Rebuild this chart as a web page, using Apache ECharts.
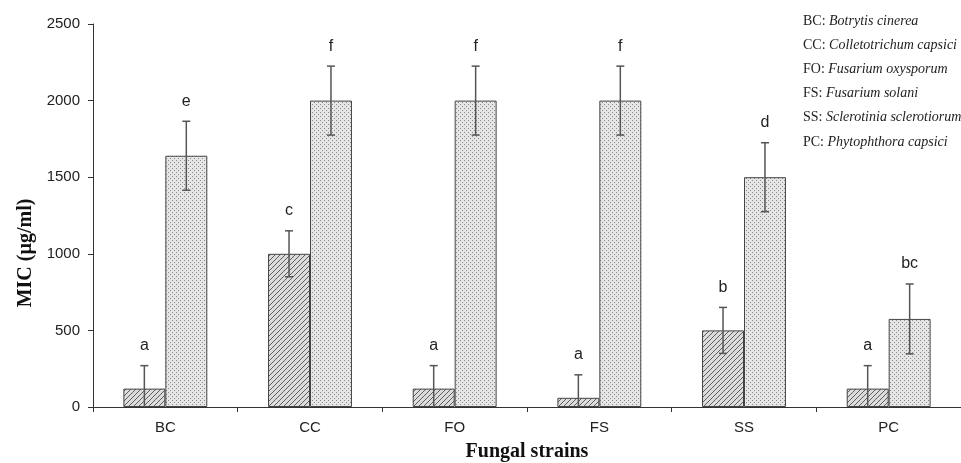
<!DOCTYPE html>
<html>
<head>
<meta charset="utf-8">
<script src="https://cdn.jsdelivr.net/npm/echarts@6/dist/echarts.min.js"></script>
<style>html,body{margin:0;padding:0;background:#fff}#c{width:961px;height:463px}</style>
</head>
<body>
<div id="c"></div>
<script>
var categories = ['BC', 'CC', 'FO', 'FS', 'SS', 'PC'];
var hatchedValues = [120, 1000, 120, 60, 500, 120];
var hatchedErr = [150, 150, 150, 150, 150, 150];
var hatchedLetters = ['a', 'c', 'a', 'a', 'b', 'a'];
var dottedValues = [1640, 2000, 2000, 2000, 1500, 575];
var dottedErr = [225, 225, 225, 225, 225, 228];
var dottedLetters = ['e', 'f', 'f', 'f', 'd', 'bc'];
var yTicks = [0, 500, 1000, 1500, 2000, 2500];
var legendCodes = ['BC', 'CC', 'FO', 'FS', 'SS', 'PC'];
var legendNames = ['Botrytis cinerea', 'Colletotrichum capsici', 'Fusarium oxysporum', 'Fusarium solani', 'Sclerotinia sclerotiorum', 'Phytophthora capsici'];
var xTitle = 'Fungal strains';
var yTitle = 'MIC (µg/ml)';

function hatchPattern() {
  var c = document.createElement('canvas');
  c.width = 5; c.height = 5;
  var g = c.getContext('2d');
  g.fillStyle = '#dcdcdc'; g.fillRect(0, 0, 5, 5);
  g.strokeStyle = '#5e5e5e'; g.lineWidth = 1;
  g.beginPath();
  g.moveTo(-1, 6); g.lineTo(6, -1);
  g.moveTo(-1, 1); g.lineTo(1, -1);
  g.moveTo(4, 6); g.lineTo(6, 4);
  g.stroke();
  return c;
}
function dotPattern() {
  var c = document.createElement('canvas');
  c.width = 4; c.height = 4;
  var g = c.getContext('2d');
  g.fillStyle = '#e6e6e6'; g.fillRect(0, 0, 4, 4);
  g.fillStyle = '#8a8a8a';
  g.fillRect(0, 0, 1, 1);
  g.fillRect(2, 2, 1, 1);
  return c;
}

var BAR_FRAC = 0.29;
function errRenderer(sign, letters) {
  return function (params, api) {
    var idx = api.value(0), v = api.value(1), e = api.value(2);
    var c = api.coord([idx, v]);
    var bw = api.size([1, 0])[0] * BAR_FRAC;
    var x = c[0] + sign * bw / 2;
    var top = api.coord([idx, v + e])[1];
    var lowV = Math.max(0, v - e);
    var low = api.coord([idx, lowV])[1];
    var st = { stroke: '#555', lineWidth: 1.5 };
    var cap = 4;
    var children = [
      { type: 'line', shape: { x1: x, y1: top, x2: x, y2: low }, style: st },
      { type: 'line', shape: { x1: x - cap, y1: top, x2: x + cap, y2: top }, style: st }
    ];
    if (v - e > 0) {
      children.push({ type: 'line', shape: { x1: x - cap, y1: low, x2: x + cap, y2: low }, style: st });
    }
    children.push({
      type: 'text', x: x, y: top - 12,
      style: { text: letters[params.dataIndex], textAlign: 'center', textVerticalAlign: 'bottom',
        fontFamily: 'Liberation Sans', fontSize: 16, fill: '#222' }
    });
    return { type: 'group', children: children };
  };
}

var chart = echarts.init(document.getElementById('c'), null, { renderer: 'canvas' });
var graphics = legendCodes.map(function (code, i) {
  return {
    type: 'text', left: 803, top: 14 + i * 24.2,
    style: {
      text: '{n|' + code + ': }{i|' + legendNames[i] + '}',
      rich: {
        n: { fontFamily: 'Liberation Serif', fontSize: 14, fill: '#222' },
        i: { fontFamily: 'Liberation Serif', fontSize: 14, fontStyle: 'italic', fill: '#222' }
      }
    }
  };
});
graphics.push({
  type: 'text', x: 26, y: 253, rotation: Math.PI / 2,
  style: { text: yTitle, textAlign: 'center', textVerticalAlign: 'middle',
    fontFamily: 'Liberation Serif', fontWeight: 'bold', fontSize: 20, fill: '#111' }
});
graphics.push({
  type: 'text', x: 527, y: 452,
  style: { text: xTitle, textAlign: 'center', textVerticalAlign: 'middle',
    fontFamily: 'Liberation Serif', fontWeight: 'bold', fontSize: 20, fill: '#111' }
});

chart.setOption({
  animation: false,
  backgroundColor: '#fff',
  grid: { left: 93, top: 24, width: 873, bottom: 56, containLabel: false },
  xAxis: {
    type: 'category', data: categories,
    axisLine: { lineStyle: { color: '#333', width: 1 } },
    axisTick: { show: true, length: 5, lineStyle: { color: '#333' } },
    axisLabel: { fontFamily: 'Liberation Sans', fontSize: 15, color: '#222', margin: 13 }
  },
  yAxis: {
    type: 'value', min: 0, max: 2500, interval: 500,
    axisLine: { show: true, lineStyle: { color: '#333', width: 1 } },
    axisTick: { show: true, length: 5, lineStyle: { color: '#333' } },
    splitLine: { show: false },
    axisLabel: { fontFamily: 'Liberation Sans', fontSize: 15, color: '#222', margin: 13,
      formatter: function (v) { return yTicks.indexOf(v) >= 0 ? String(v) : ''; } }
  },
  graphic: graphics,
  series: [
    { type: 'bar', data: hatchedValues, barWidth: (BAR_FRAC * 100) + '%', barGap: '0%',
      itemStyle: { color: { image: hatchPattern(), repeat: 'repeat' }, borderColor: '#444', borderWidth: 1 } },
    { type: 'bar', data: dottedValues, barWidth: (BAR_FRAC * 100) + '%', barGap: '0%',
      itemStyle: { color: { image: dotPattern(), repeat: 'repeat' }, borderColor: '#444', borderWidth: 1 } },
    { type: 'custom', renderItem: errRenderer(-1, hatchedLetters), z: 5,
      data: hatchedValues.map(function (v, i) { return [i, v, hatchedErr[i]]; }) },
    { type: 'custom', renderItem: errRenderer(1, dottedLetters), z: 5,
      data: dottedValues.map(function (v, i) { return [i, v, dottedErr[i]]; }) }
  ]
});
</script>
</body>
</html>
